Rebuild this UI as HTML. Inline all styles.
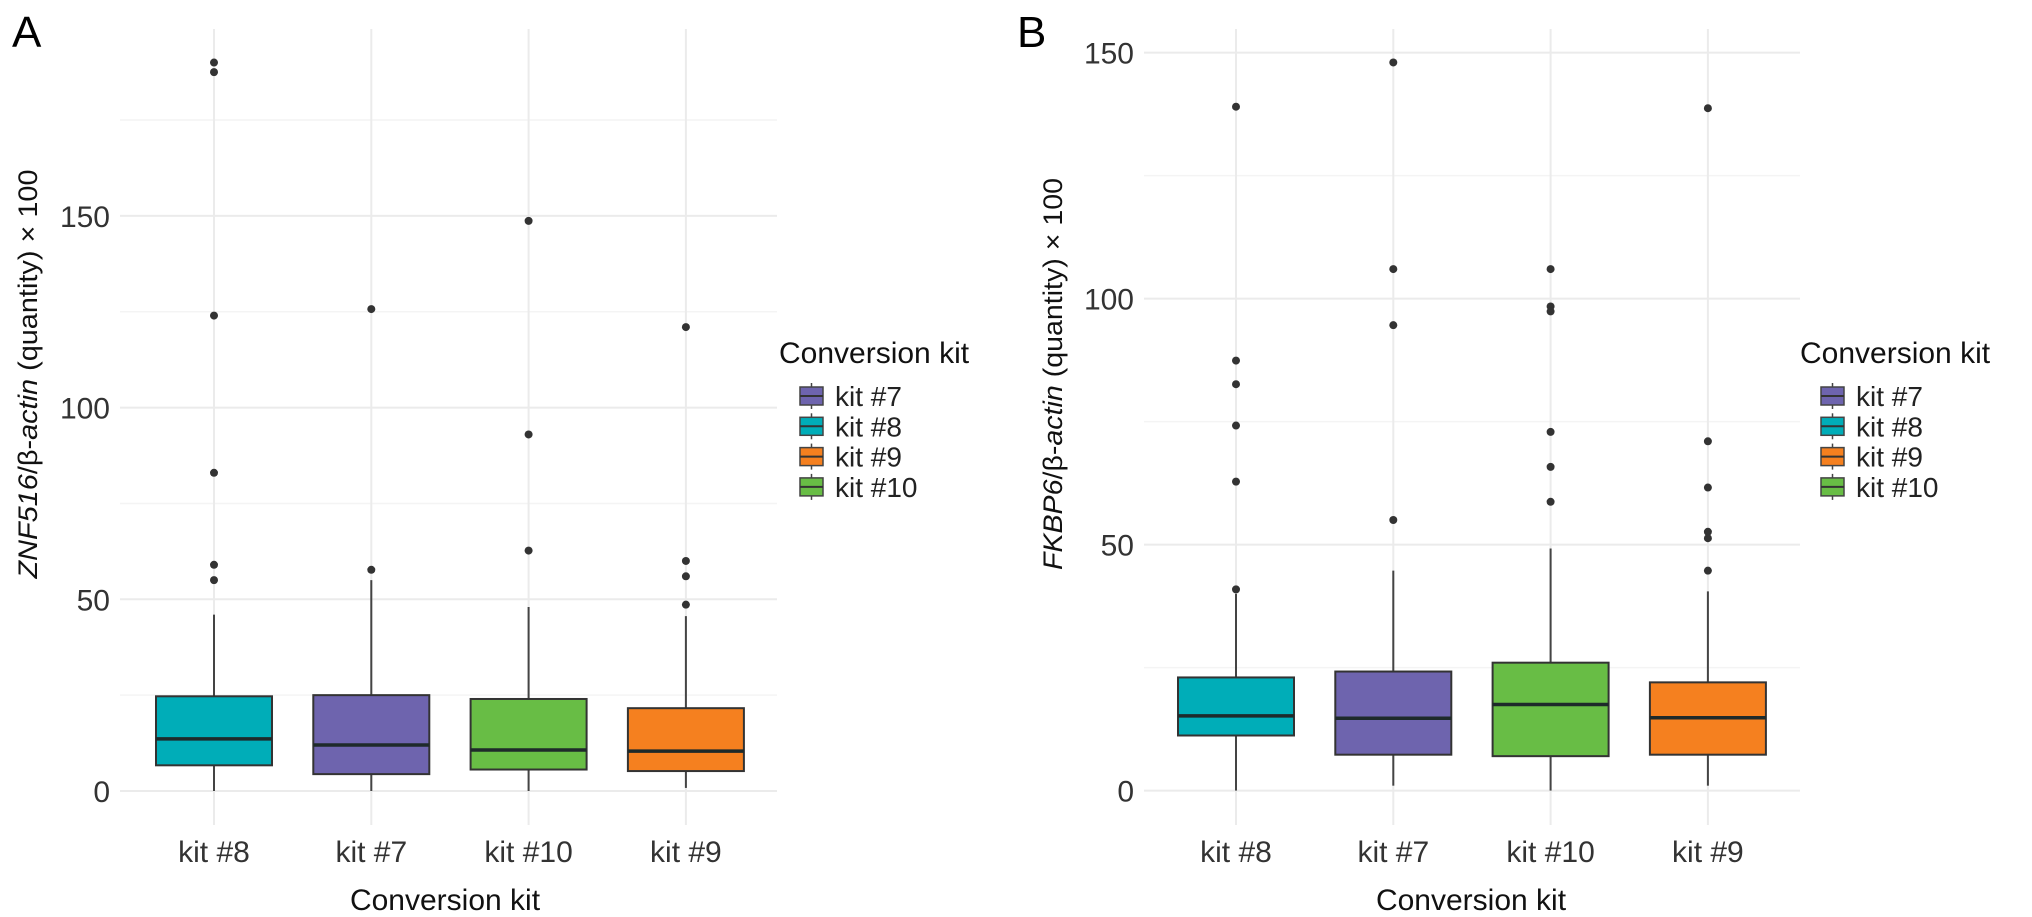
<!DOCTYPE html>
<html><head><meta charset="utf-8">
<style>
html,body{margin:0;padding:0;background:#fff;}
svg{display:block;font-family:"Liberation Sans",sans-serif;}
</style></head>
<body>
<svg id="chart" width="2032" height="917" viewBox="0 0 2032 917" xmlns="http://www.w3.org/2000/svg">
<rect width="2032" height="917" fill="#fff"/>
</svg>
<script>
const categories = ["kit #8", "kit #7", "kit #10", "kit #9"];
const boxColors = ["#00adb8", "#6e64ae", "#68bd45", "#f5801f"];
// Panel A (ZNF516)
const aQ1 = [6.7, 4.4, 5.6, 5.2];
const aMed = [13.6, 12, 10.7, 10.4];
const aQ3 = [24.7, 25, 24, 21.6];
const aLo = [0, 0, 0, 0.8];
const aHi = [46, 55, 48, 45.6];
const aOut = [[190, 187.5, 124, 83, 59, 55], [125.7, 57.7], [148.7, 93, 62.7], [121, 60, 56, 48.6]];
const aTicks = [0, 50, 100, 150];
const aMinor = [25, 75, 125, 175];
// Panel B (FKBP6)
const bQ1 = [11.2, 7.3, 7, 7.3];
const bMed = [15.2, 14.7, 17.5, 14.8];
const bQ3 = [23, 24.2, 26, 22];
const bLo = [0, 1, 0, 1];
const bHi = [40, 44.7, 49.2, 40.5];
const bOut = [[139, 87.4, 82.6, 74.2, 62.8, 40.9], [148, 106, 94.6, 55], [106, 98.4, 97.4, 72.9, 65.8, 58.7], [138.7, 71, 61.6, 52.6, 51.3, 44.7]];
const bTicks = [0, 50, 100, 150];
const bMinor = [25, 75, 125];
const legendLabels = ["kit #7", "kit #8", "kit #9", "kit #10"];
const legendColors = ["#6e64ae", "#00adb8", "#f5801f", "#68bd45"];

const NS = "http://www.w3.org/2000/svg";
const svg = document.getElementById("chart");
function mk(tag, attrs, parent, text) {
  const e = document.createElementNS(NS, tag);
  for (const k in attrs) e.setAttribute(k, attrs[k]);
  if (text !== undefined) e.textContent = text;
  (parent || svg).appendChild(e);
  return e;
}

function panel(cfg) {
  const g = mk("g", {});
  
  
  const y = v => cfg.y0 - v * cfg.k;
  const x = i => cfg.cx0 + i * cfg.step;
  // minor grid
  cfg.minor.forEach(t => {
    const l = mk("line", {x1: cfg.left, x2: cfg.right, y1: y(t), y2: y(t), stroke: "#f4f4f4", "stroke-width": 1.5}, g);
    
    
  });
  cfg.ticks.forEach(t => {
    const l = mk("line", {x1: cfg.left, x2: cfg.right, y1: y(t), y2: y(t), stroke: "#ebebeb", "stroke-width": 2}, g);
    
    
    const tx = mk("text", {x: cfg.tickX, y: y(t) + 11, "text-anchor": "end", "font-size": 30, fill: "#333"}, g, String(t));
    
    
  });
  categories.forEach((c, i) => {
    const l = mk("line", {x1: x(i), x2: x(i), y1: 29, y2: 825, stroke: "#ebebeb", "stroke-width": 2}, g);
    
    
  });
  categories.forEach((c, i) => {
    const bg = mk("g", {}, g);
    
    
    const w1 = mk("line", {x1: x(i), x2: x(i), y1: y(cfg.hi[i]), y2: y(cfg.q3[i]), stroke: "#444", "stroke-width": 2}, bg);
    
    
    const w2 = mk("line", {x1: x(i), x2: x(i), y1: y(cfg.q1[i]), y2: y(cfg.lo[i]), stroke: "#444", "stroke-width": 2}, bg);
    
    
    const r = mk("rect", {x: x(i) - 58, y: y(cfg.q3[i]), width: 116, height: y(cfg.q1[i]) - y(cfg.q3[i]), fill: boxColors[i], stroke: "#333", "stroke-width": 2}, bg);
    
    
    const m = mk("line", {x1: x(i) - 58, x2: x(i) + 58, y1: y(cfg.med[i]), y2: y(cfg.med[i]), stroke: "#1e2a2a", "stroke-width": 3.5}, bg);
    
    
    cfg.out[i].forEach(v => {
      const p = mk("circle", {cx: x(i), cy: y(v), r: 4, fill: "#333"}, bg);
      
      
    });
    const lb = mk("text", {x: x(i), y: 862, "text-anchor": "middle", "font-size": 30, fill: "#333"}, g, c);
    
    
  });
  const xt = mk("text", {x: cfg.xTitleX, y: 910, "text-anchor": "middle", "font-size": 30, fill: "#111"}, g, "Conversion kit");
  
  
  const yt = mk("text", {x: 0, y: 0, "text-anchor": "middle", "font-size": 27, fill: "#111", transform: "translate(" + cfg.yTitleX + ",374) rotate(-90)", textLength: cfg.yTitleLen, lengthAdjust: "spacingAndGlyphs"}, g);
  
  
  mk("tspan", {"font-style": "italic"}, yt, cfg.gene);
  mk("tspan", {}, yt, "/β-");
  mk("tspan", {"font-style": "italic"}, yt, "actin");
  mk("tspan", {}, yt, " (quantity) × 100");
  const pl = mk("text", {x: cfg.letterX, y: 47, "font-size": 44, fill: "#000"}, g, cfg.letter);
  
  
  // legend
  const lg = mk("g", {}, g);
  
  
  const lt = mk("text", {x: cfg.legX, y: 363, "font-size": 30, fill: "#111"}, lg, "Conversion kit");
  
  
  legendLabels.forEach((lab, j) => {
    const cy = 396 + j * 30.3;
    const kx = cfg.legX + 21;
    const e = mk("g", {}, lg);
    
    
    mk("line", {x1: kx + 11.5, x2: kx + 11.5, y1: cy - 13, y2: cy + 13, stroke: "#444", "stroke-width": 1.5}, e);
    mk("rect", {x: kx, y: cy - 9, width: 23, height: 18, fill: legendColors[j], stroke: "#444", "stroke-width": 1.5}, e);
    mk("line", {x1: kx, x2: kx + 23, y1: cy, y2: cy, stroke: "#333", "stroke-width": 2}, e);
    mk("text", {x: kx + 35, y: cy + 10, "font-size": 28, fill: "#222"}, e, lab);
  });
}

panel({name: "panel-a", left: 120, right: 777, y0: 791, k: 3.834, cx0: 214, step: 157.3,
  ticks: aTicks, minor: aMinor, q1: aQ1, med: aMed, q3: aQ3, lo: aLo, hi: aHi, out: aOut,
  tickX: 110, xTitleX: 445, yTitleX: 37, yTitleLen: 409, gene: "ZNF516", letter: "A", letterX: 12, legX: 779});
panel({name: "panel-b", left: 1144, right: 1800, y0: 790.6, k: 4.92, cx0: 1236, step: 157.3,
  ticks: bTicks, minor: bMinor, q1: bQ1, med: bMed, q3: bQ3, lo: bLo, hi: bHi, out: bOut,
  tickX: 1134, xTitleX: 1471, yTitleX: 1062, yTitleLen: 392, gene: "FKBP6", letter: "B", letterX: 1017, legX: 1800});
</script>
</body></html>
